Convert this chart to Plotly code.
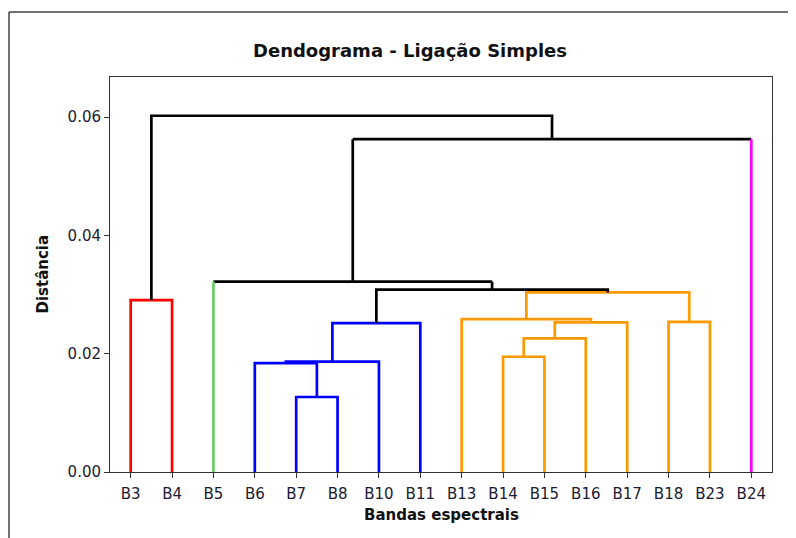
import plotly.graph_objects as go

# ---------------- data ----------------
labels = ["B3", "B4", "B5", "B6", "B7", "B8", "B10", "B11",
          "B13", "B14", "B15", "B16", "B17", "B18", "B23", "B24"]
leaf_colors = ["#FF0000", "#FF0000", "#66CC66", "#0000FF", "#0000FF", "#0000FF",
               "#0000FF", "#0000FF", "#FF9900", "#FF9900", "#FF9900", "#FF9900",
               "#FF9900", "#FF9900", "#FF9900", "#FF00FF"]
# merges: ids 0..15 are leaves, cluster k gets id 16+k
merge_left = [4, 3, 17, 9, 19, 20, 8, 13, 22, 18, 0, 25, 2, 28, 26]
merge_right = [5, 16, 6, 10, 11, 12, 21, 14, 23, 7, 1, 24, 27, 15, 29]
merge_heights = [0.01268, 0.01842, 0.01868, 0.01949, 0.02260, 0.02530, 0.02586,
                 0.02540, 0.03037, 0.02518, 0.02907, 0.03084, 0.03220, 0.05628, 0.06025]
merge_colors = ["#0000FF", "#0000FF", "#0000FF", "#FF9900", "#FF9900", "#FF9900",
                "#FF9900", "#FF9900", "#FF9900", "#0000FF", "#FF0000", "#000000",
                "#000000", "#000000", "#000000"]
y_ticks = [0.0, 0.02, 0.04, 0.06]

n = len(labels)
pos = {i: (float(i), 0.0) for i in range(n)}
for k, (a, b, h) in enumerate(zip(merge_left, merge_right, merge_heights)):
    pos[n + k] = ((pos[a][0] + pos[b][0]) / 2.0, h)

segs = {}
def add(color, pts):
    segs.setdefault(color, {"x": [], "y": []})
    for p in pts:
        segs[color]["x"].append(p[0])
        segs[color]["y"].append(p[1])
    segs[color]["x"].append(None)
    segs[color]["y"].append(None)

for k, (a, b, h, c) in enumerate(zip(merge_left, merge_right, merge_heights, merge_colors)):
    xa, ha = pos[a]
    xb, hb = pos[b]
    ca = leaf_colors[a] if a < n else c
    cb = leaf_colors[b] if b < n else c
    if ca == c and cb == c:
        add(c, [(xa, ha), (xa, h), (xb, h), (xb, hb)])
    else:
        add(ca, [(xa, ha), (xa, h)])
        add(c, [(xa, h), (xb, h)])
        add(cb, [(xb, h), (xb, hb)])

fig = go.Figure()
for color, d in segs.items():
    fig.add_trace(go.Scatter(x=d["x"], y=d["y"], mode="lines",
                             line=dict(color=color, width=2.7),
                             hoverinfo="skip", showlegend=False))

FONT = "DejaVu Sans"
TXT = "#1a1a33"

# page has an 8px body margin: figure is 788x530, plot area at page x 110..772, y 77..472
fig.update_layout(
    width=788, height=530,
    margin=dict(l=102, r=24, t=69, b=66),
    paper_bgcolor="white", plot_bgcolor="white",
    font=dict(family=FONT, size=15, color=TXT),
    showlegend=False,
)
fig.update_xaxes(range=[-0.5, 15.5], tickmode="array",
                 tickvals=list(range(n)), ticktext=labels,
                 ticks="outside", ticklen=5, tickcolor="#333",
                 ticklabelstandoff=3,
                 showline=True, linecolor="#333", linewidth=1, mirror=True,
                 showgrid=False, zeroline=False,
                 tickfont=dict(family=FONT, size=15, color=TXT))
fig.update_yaxes(range=[0, 0.0668], tickmode="array",
                 tickvals=y_ticks, ticktext=[f"{v:.2f}" for v in y_ticks],
                 ticks="outside", ticklen=5, tickcolor="#333",
                 showline=True, linecolor="#333", linewidth=1, mirror=True,
                 showgrid=False, zeroline=False,
                 tickfont=dict(family=FONT, size=15, color=TXT))

fig.add_annotation(text="<b>Dendograma - Ligação Simples</b>", xref="paper", yref="paper",
                   x=0.453, y=1.068, showarrow=False, xanchor="center", yanchor="middle",
                   font=dict(family=FONT, size=18, color="#111"))
fig.add_annotation(text="<b>Bandas espectrais</b>", xref="paper", yref="paper",
                   x=0.5, y=-0.108, showarrow=False, xanchor="center", yanchor="middle",
                   font=dict(family=FONT, size=15, color="#111"))
fig.add_annotation(text="<b>Distância</b>", xref="paper", yref="paper",
                   x=-0.1027, y=0.5, showarrow=False, xanchor="center", yanchor="middle",
                   textangle=-90, font=dict(family=FONT, size=15, color="#111"))

# outer frame (left and top edges visible)
fig.add_shape(type="line", xref="paper", yref="paper",
              x0=(9 - 110) / 662, x1=(9 - 110) / 662,
              y0=(472 - 545) / 395, y1=(472 - 12) / 395,
              line=dict(color="#444", width=1.5))
fig.add_shape(type="line", xref="paper", yref="paper",
              x0=(9 - 110) / 662, x1=(800 - 110) / 662,
              y0=(472 - 12) / 395, y1=(472 - 12) / 395,
              line=dict(color="#444", width=1.5))

fig.write_html("out.html")
